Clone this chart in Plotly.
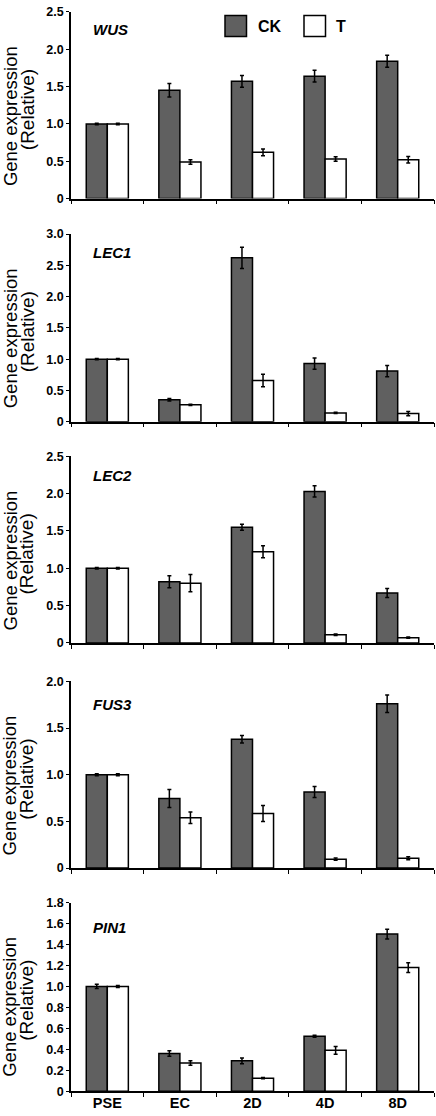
import plotly.graph_objects as go
from plotly.subplots import make_subplots

categories = ["PSE", "EC", "2D", "4D", "8D"]
genes = ["WUS", "LEC1", "LEC2", "FUS3", "PIN1"]
series_names = ["CK", "T"]

wus_ck = [1.00, 1.45, 1.57, 1.64, 1.84]
wus_ck_err = [0.01, 0.09, 0.08, 0.08, 0.08]
wus_t = [1.00, 0.49, 0.62, 0.53, 0.52]
wus_t_err = [0.01, 0.03, 0.045, 0.03, 0.045]

lec1_ck = [1.00, 0.35, 2.62, 0.93, 0.81]
lec1_ck_err = [0.01, 0.02, 0.17, 0.09, 0.09]
lec1_t = [1.00, 0.27, 0.66, 0.14, 0.13]
lec1_t_err = [0.01, 0.01, 0.10, 0.01, 0.035]

lec2_ck = [1.00, 0.82, 1.55, 2.03, 0.67]
lec2_ck_err = [0.01, 0.08, 0.04, 0.075, 0.06]
lec2_t = [1.00, 0.80, 1.22, 0.11, 0.07]
lec2_t_err = [0.01, 0.115, 0.08, 0.01, 0.008]

fus3_ck = [1.00, 0.745, 1.38, 0.815, 1.76]
fus3_ck_err = [0.01, 0.097, 0.04, 0.06, 0.094]
fus3_t = [1.00, 0.54, 0.585, 0.095, 0.105]
fus3_t_err = [0.01, 0.062, 0.085, 0.012, 0.015]

pin1_ck = [1.00, 0.36, 0.29, 0.525, 1.50]
pin1_ck_err = [0.02, 0.027, 0.027, 0.01, 0.047]
pin1_t = [1.00, 0.27, 0.125, 0.39, 1.18]
pin1_t_err = [0.01, 0.022, 0.005, 0.038, 0.047]

y_max = [2.5, 3.0, 2.5, 2.0, 1.8]
tick_vals = [
    [0, 0.5, 1.0, 1.5, 2.0, 2.5],
    [0, 0.5, 1.0, 1.5, 2.0, 2.5, 3.0],
    [0, 0.5, 1.0, 1.5, 2.0, 2.5],
    [0, 0.5, 1.0, 1.5, 2.0],
    [0, 0.2, 0.4, 0.6, 0.8, 1.0, 1.2, 1.4, 1.6, 1.8],
]
tick_text = [
    ["0", "0.5", "1.0", "1.5", "2.0", "2.5"],
    ["0", "0.5", "1.0", "1.5", "2.0", "2.5", "3.0"],
    ["0", "0.5", "1.0", "1.5", "2.0", "2.5"],
    ["0", "0.5", "1.0", "1.5", "2.0"],
    ["0", "0.2", "0.4", "0.6", "0.8", "1.0", "1.2", "1.4", "1.6", "1.8"],
]

ck_vals = [wus_ck, lec1_ck, lec2_ck, fus3_ck, pin1_ck]
ck_errs = [wus_ck_err, lec1_ck_err, lec2_ck_err, fus3_ck_err, pin1_ck_err]
t_vals = [wus_t, lec1_t, lec2_t, fus3_t, pin1_t]
t_errs = [wus_t_err, lec1_t_err, lec2_t_err, fus3_t_err, pin1_t_err]

W, H = 436, 1116
L, R = 71, 2
panel_px = [(5, 194), (230, 420), (455, 644), (683, 872), (907, 1098)]
gene_off = [18, 18.5, 19, 23, 25]

FONT = "Liberation Sans, Arial, sans-serif"
CK_COLOR = "#606060"

fig = make_subplots(rows=5, cols=1)

for i in range(5):
    r = i + 1
    fig.add_trace(go.Bar(
        x=categories, y=ck_vals[i], name=series_names[0],
        marker=dict(color=CK_COLOR, line=dict(color="black", width=1.5)),
        error_y=dict(type="data", array=ck_errs[i], color="black", thickness=1.5, width=2),
        showlegend=False), row=r, col=1)
    fig.add_trace(go.Bar(
        x=categories, y=t_vals[i], name=series_names[1],
        marker=dict(color="white", line=dict(color="black", width=1.5)),
        error_y=dict(type="data", array=t_errs[i], color="black", thickness=1.5, width=2),
        showlegend=False), row=r, col=1)

layout = {}
annotations = []
for i in range(5):
    r = i + 1
    top, bot = panel_px[i]
    h = bot - top
    layout[f"yaxis{'' if r == 1 else r}"] = dict(
        domain=[1 - bot / H, 1 - top / H],
        range=[0, y_max[i]], tickvals=tick_vals[i], ticktext=tick_text[i],
        showline=True, linecolor="black", linewidth=1.5,
        ticks="outside", ticklen=3, tickwidth=1.2, tickcolor="black",
        showgrid=False, zeroline=False,
        tickfont=dict(family=FONT, size=12.5, color="black", weight="bold"),
    )
    layout[f"xaxis{'' if r == 1 else r}"] = dict(
        showline=True, linecolor="black", linewidth=1.5,
        ticks="outside", tickson="boundaries", ticklen=4, tickwidth=1.2, tickcolor="black",
        showgrid=False, showticklabels=(r == 5),
        ticklabelstandoff=-2 if r == 5 else 0,
        tickfont=dict(family=FONT, size=14.5, color="black", weight="bold"),
    )
    yd = f"y{'' if r == 1 else r} domain"
    xd = f"x{'' if r == 1 else r} domain"
    annotations.append(dict(
        text=f"<b><i>{genes[i]}</i></b>", xref=xd, yref=yd,
        x=(91 - L) / (W - L - R), y=1 - gene_off[i] / h,
        xanchor="left", yanchor="middle", showarrow=False,
        font=dict(family=FONT, size=15, color="black")))
    annotations.append(dict(
        text="Gene expression", xref="paper", yref=yd,
        x=(10 - L) / (W - L - R), y=1 - 105.5 / h, textangle=-90,
        xanchor="center", yanchor="middle", showarrow=False,
        font=dict(family=FONT, size=18.5, color="black")))
    annotations.append(dict(
        text="(Relative)", xref="paper", yref=yd,
        x=(27 - L) / (W - L - R), y=1 - 99.5 / h, textangle=-90,
        xanchor="center", yanchor="middle", showarrow=False,
        font=dict(family=FONT, size=19, color="black")))

h1 = panel_px[0][1] - panel_px[0][0]
pw = W - L - R
shapes = []
for (x0, x1, color) in [(225, 246.5, CK_COLOR), (304, 325.5, "white")]:
    shapes.append(dict(type="rect", xref="x domain", yref="y domain",
                       x0=(x0 - L) / pw, x1=(x1 - L) / pw,
                       y0=(panel_px[0][1] - 30) / h1, y1=(panel_px[0][1] - 8.5) / h1,
                       fillcolor=color, line=dict(color="black", width=1.5)))
for (xt, name) in [(256, series_names[0]), (334, series_names[1])]:
    annotations.append(dict(
        text=f"<b>{name}</b>", xref="x domain", yref="y domain",
        x=(xt - L) / pw, y=(panel_px[0][1] - 20) / h1,
        xanchor="left", yanchor="middle", showarrow=False,
        font=dict(family=FONT, size=16, color="black")))

fig.update_layout(**layout)
fig.update_layout(
    width=W, height=H,
    margin=dict(l=L, r=R, t=0, b=0),
    paper_bgcolor="white", plot_bgcolor="white",
    barmode="group", bargap=0.42, bargroupgap=0,
    showlegend=False,
    annotations=annotations, shapes=shapes,
)

fig.write_html("out.html",
               config={"displayModeBar": False},
               post_script="document.body.style.margin='0';document.body.style.padding='0';")
